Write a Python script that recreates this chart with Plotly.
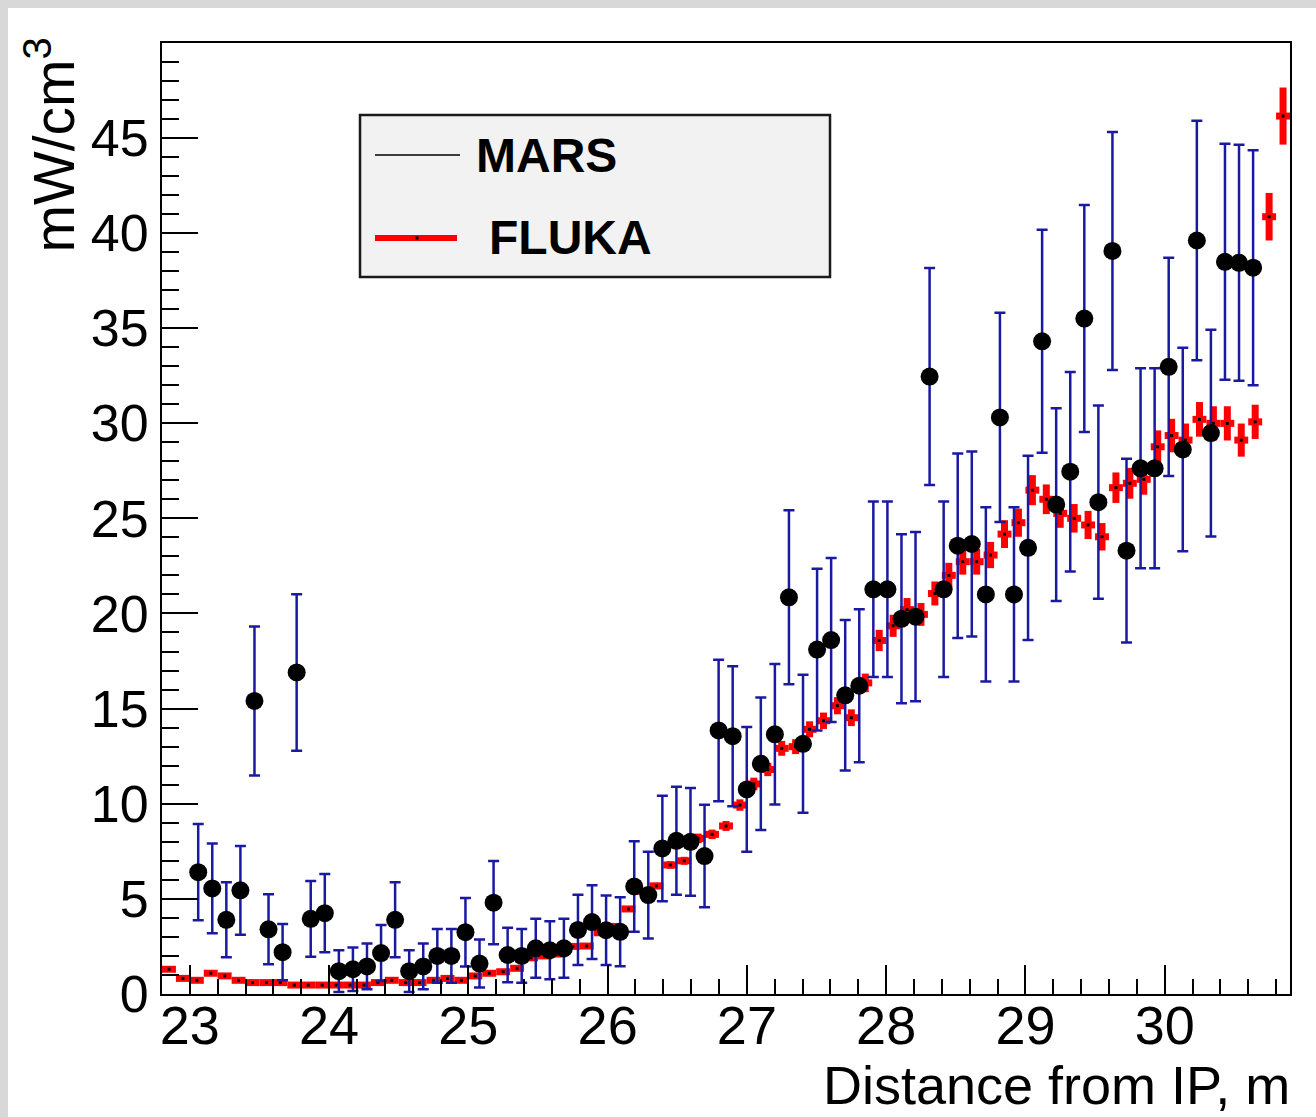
import plotly.graph_objects as go

# ---- FLUKA: 0.1 m bins from 22.8 m to 30.9 m ----
fluka_x = [22.85, 22.95, 23.05, 23.15, 23.25, 23.35, 23.45, 23.55, 23.65, 23.75,
           23.85, 23.95, 24.05, 24.15, 24.25, 24.35, 24.45, 24.55, 24.65, 24.75,
           24.85, 24.95, 25.05, 25.15, 25.25, 25.35, 25.45, 25.55, 25.65, 25.75,
           25.85, 25.95, 26.05, 26.15, 26.25, 26.35, 26.45, 26.55, 26.65, 26.75,
           26.85, 26.95, 27.05, 27.15, 27.25, 27.35, 27.45, 27.55, 27.65, 27.75,
           27.85, 27.95, 28.05, 28.15, 28.25, 28.35, 28.45, 28.55, 28.65, 28.75,
           28.85, 28.95, 29.05, 29.15, 29.25, 29.35, 29.45, 29.55, 29.65, 29.75,
           29.85, 29.95, 30.05, 30.15, 30.25, 30.35, 30.45, 30.55, 30.65, 30.75,
           30.85]
fluka_y = [1.3, 0.82, 0.72, 1.09, 0.95, 0.72, 0.6, 0.6, 0.6, 0.47,
           0.47, 0.47, 0.47, 0.47, 0.47, 0.6, 0.72, 0.6, 0.6, 0.72,
           0.82, 0.72, 0.95, 1.09, 1.17, 1.35, 1.9, 2.0, 2.1, 2.5,
           2.52, 3.22, 3.55, 4.47, 5.4, 5.68, 6.78, 7.0, 8.18, 8.39,
           8.83, 9.93, 11.04, 11.8, 12.91, 13.0, 13.91, 14.36, 15.15, 14.52,
           16.35, 18.58, 19.35, 20.2, 19.95, 21.05, 22.0, 22.72, 22.72, 23.07,
           24.17, 24.77, 26.48, 26.0, 25.26, 25.0, 24.65, 24.03, 26.61, 26.84,
           27.05, 28.76, 29.35, 29.11, 30.2, 29.99, 29.99, 29.11, 30.07, 40.85,
           46.14]
fluka_err = [0.04, 0.02, 0.02, 0.03, 0.03, 0.02, 0.02, 0.02, 0.02, 0.01,
             0.01, 0.01, 0.01, 0.01, 0.01, 0.02, 0.02, 0.02, 0.02, 0.02,
             0.02, 0.02, 0.03, 0.03, 0.04, 0.04, 0.06, 0.06, 0.06, 0.08,
             0.08, 0.1, 0.11, 0.13, 0.16, 0.17, 0.2, 0.21, 0.25, 0.25,
             0.26, 0.3, 0.33, 0.35, 0.39, 0.39, 0.42, 0.43, 0.45, 0.44,
             0.49, 0.56, 0.58, 0.61, 0.6, 0.63, 0.66, 0.68, 0.68, 0.69,
             0.73, 0.74, 0.79, 0.78, 0.76, 0.75, 0.74, 0.72, 0.8, 0.81,
             0.81, 0.86, 0.88, 0.87, 0.91, 0.9, 0.9, 0.87, 0.9, 1.25,
             1.5]
fluka_halfbin = 0.05

# ---- MARS ----
mars_x = [23.06, 23.161, 23.262, 23.363, 23.464, 23.565, 23.666, 23.767, 23.868, 23.969,
          24.07, 24.171, 24.272, 24.373, 24.474, 24.575, 24.676, 24.777, 24.878, 24.979,
          25.08, 25.181, 25.282, 25.383, 25.484, 25.585, 25.686, 25.787, 25.888, 25.989,
          26.09, 26.191, 26.292, 26.393, 26.494, 26.595, 26.696, 26.797, 26.898, 26.999,
          27.1, 27.201, 27.302, 27.403, 27.504, 27.605, 27.706, 27.807, 27.908, 28.009,
          28.11, 28.211, 28.312, 28.413, 28.514, 28.615, 28.716, 28.817, 28.918, 29.019,
          29.12, 29.221, 29.322, 29.423, 29.524, 29.625, 29.726, 29.827, 29.928, 30.029,
          30.13, 30.231, 30.332, 30.433, 30.534, 30.635]
mars_y = [6.4, 5.55, 3.9, 5.45, 15.4, 3.4, 2.2, 16.9, 3.95, 4.25,
          1.2, 1.3, 1.45, 2.15, 3.9, 1.2, 1.45, 2.0, 2.0, 3.25,
          1.6, 4.8, 2.05, 2.0, 2.4, 2.3, 2.4, 3.37, 3.78, 3.35,
          3.27, 5.65, 5.2, 7.65, 8.05, 8.0, 7.25, 13.85, 13.55, 10.75,
          12.1, 13.65, 20.85, 13.15, 18.1, 18.6, 15.7, 16.2, 21.27, 21.27,
          19.72, 19.83, 32.45, 21.27, 23.56, 23.65, 21.0, 30.3, 21.0, 23.45,
          34.3, 25.72, 27.45, 35.5, 25.85, 39.05, 23.3, 27.63, 27.63, 32.96,
          28.62, 39.6, 29.48, 38.48, 38.43, 38.17]
mars_err = [2.53, 2.36, 1.97, 2.33, 3.92, 1.84, 1.48, 4.11, 1.99, 2.06,
            1.1, 1.14, 1.2, 1.47, 1.97, 1.1, 1.2, 1.41, 1.41, 1.8,
            1.26, 2.19, 1.43, 1.41, 1.55, 1.52, 1.55, 1.84, 1.94, 1.83,
            1.81, 2.38, 2.28, 2.77, 2.84, 2.83, 2.69, 3.72, 3.68, 3.28,
            3.48, 3.69, 4.57, 3.63, 4.25, 4.31, 3.96, 4.02, 4.61, 4.61,
            4.44, 4.45, 5.7, 4.61, 4.85, 4.86, 4.58, 5.5, 4.58, 4.84,
            5.86, 5.07, 5.24, 5.96, 5.08, 6.25, 4.83, 5.26, 5.26, 5.74,
            5.35, 6.29, 5.43, 6.2, 6.2, 6.18]

x_range = [22.8, 30.9]
y_range = [0, 49.98]

# ---- canvas geometry (pixels) ----
W, H = 1316, 1117
ML, MR, MT, MB = 162, 26, 43, 123
FONT = "Liberation Sans, Arial, Helvetica, sans-serif"


def px(x):
    return (x - ML) / (W - ML - MR)


def py(y):
    return (H - MB - y) / (H - MB - MT)


fig = go.Figure()

fig.add_trace(go.Scatter(
    x=fluka_x, y=fluka_y, mode="markers", name="FLUKA",
    marker=dict(color="black", size=3, symbol="square"),
    error_x=dict(type="constant", value=fluka_halfbin, color="#ff0000",
                 thickness=7, width=0),
    error_y=dict(type="data", array=fluka_err, color="#ff0000",
                 thickness=7, width=0),
    showlegend=False,
))

fig.add_trace(go.Scatter(
    x=mars_x, y=mars_y, mode="markers", name="MARS",
    marker=dict(color="black", size=18, symbol="circle"),
    error_y=dict(type="data", array=mars_err, color="#1a1aa0",
                 thickness=2.5, width=5.5),
    showlegend=False,
))

axis_common = dict(
    showline=True, linecolor="black", linewidth=2, mirror=True,
    showgrid=False, zeroline=False, ticks="inside", tickcolor="black",
    tickwidth=2,
)

fig.update_xaxes(
    range=x_range, tick0=23, dtick=1, ticklen=29,
    tickfont=dict(family=FONT, size=54, color="black"),
    minor=dict(ticks="inside", dtick=0.2, tick0=23, ticklen=15,
               tickwidth=2, tickcolor="black"),
    ticklabelstandoff=-17,
    **axis_common,
)
fig.update_yaxes(
    range=y_range, tick0=0, dtick=5, ticklen=36,
    tickfont=dict(family=FONT, size=52, color="black"),
    minor=dict(ticks="inside", dtick=1, tick0=0, ticklen=17,
               tickwidth=2, tickcolor="black"),
    ticklabelstandoff=1,
    **axis_common,
)

shapes = [
    # white canvas over the grey page border
    dict(type="rect", xref="paper", yref="paper", layer="below",
         x0=px(8), x1=px(W + 20), y0=py(H + 20), y1=py(8),
         fillcolor="white", line=dict(width=0)),
    # legend box
    dict(type="rect", xref="paper", yref="paper", layer="above",
         x0=px(360), x1=px(830), y0=py(277), y1=py(115),
         fillcolor="#f2f2f2", line=dict(color="#1a1a1a", width=2.5)),
    # legend samples
    dict(type="line", xref="paper", yref="paper", layer="above",
         x0=px(375), x1=px(460), y0=py(155), y1=py(155),
         line=dict(color="black", width=1.5)),
    dict(type="line", xref="paper", yref="paper", layer="above",
         x0=px(375), x1=px(457), y0=py(238), y1=py(238),
         line=dict(color="#ff0000", width=6)),
    dict(type="rect", xref="paper", yref="paper", layer="above",
         x0=px(415.5), x1=px(418.5), y0=py(239.5), y1=py(236.5),
         fillcolor="black", line=dict(width=0)),
]

annotations = [
    dict(text="<b>MARS</b>", xref="paper", yref="paper",
         x=px(474), y=py(155), xanchor="left", yanchor="middle",
         showarrow=False, font=dict(family=FONT, size=48, color="black")),
    dict(text="<b>FLUKA</b>", xref="paper", yref="paper",
         x=px(487), y=py(238), xanchor="left", yanchor="middle",
         showarrow=False, font=dict(family=FONT, size=48, color="black")),
    dict(text="Distance from IP, m", xref="paper", yref="paper",
         x=px(1292), y=py(1085), xanchor="right", yanchor="middle",
         showarrow=False, font=dict(family=FONT, size=54, color="black")),
    dict(text="mW/cm<sup>3</sup>", xref="paper", yref="paper",
         x=px(50), y=py(36), xanchor="center", yanchor="top",
         textangle=-90, showarrow=False,
         font=dict(family=FONT, size=57, color="black")),
]

fig.update_layout(
    width=W, height=H, autosize=False,
    margin=dict(l=ML, r=MR, t=MT, b=MB, pad=0),
    paper_bgcolor="#d8d8d8", plot_bgcolor="white",
    shapes=shapes, annotations=annotations,
    showlegend=False,
)

fig.write_html("out.html")
